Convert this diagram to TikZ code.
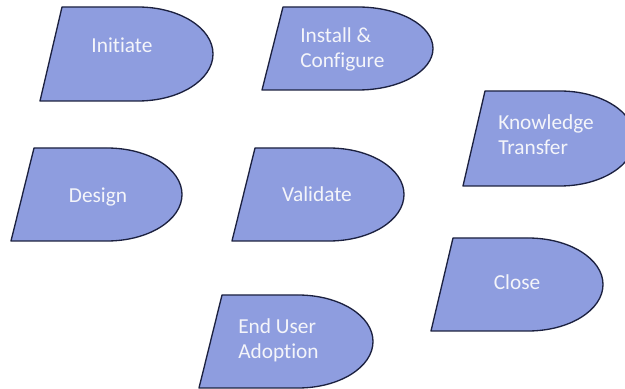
\documentclass[tikz,border=0pt]{standalone}
\usepackage{fontspec}
\setmainfont[RawFeature={-liga;-clig;-dlig}]{Carlito}
\definecolor{fillc}{HTML}{8E9DDF}
\definecolor{edgec}{HTML}{1C2140}
\definecolor{txtc}{HTML}{F4F5FA}
\newcommand\dshp[5]{%
  \pgfmathsetmacro\dTy{389-#2}%
  \pgfmathsetmacro\dBy{389-#4}%
  \pgfmathsetmacro\dRy{(#4-#2)/2*0.75}%
  \pgfmathsetmacro\dCx{#5-75}%
  \path[dshape] (#1,\dTy) -- (\dCx,\dTy) arc[start angle=90,end angle=-90,x radius=56.25pt,y radius=\dRy pt] -- (#3,\dBy) -- cycle;}
\begin{document}
\begin{tikzpicture}[x=0.75pt,y=0.75pt,
  dshape/.style={draw=edgec,line width=1pt,fill=fillc,line join=round},
  lbl/.style={text=txtc,font=\fontsize{16}{19}\selectfont,inner sep=0pt,align=left}]
\useasboundingbox (0,0) rectangle (625,389);
\fill[white] (0,0) rectangle (625,389);
\clip (0,0) rectangle (625,389);
% shapes: TLx, TLy, BLx, BLy, right (pixel coords, y down)
\dshp{62}{7}{40}{101}{213}
\dshp{283}{7}{262}{90}{433}
\dshp{485}{91}{463}{186}{635}
\dshp{34}{148}{11}{241}{182}
\dshp{255}{148}{232}{241}{404}
\dshp{453}{238}{431}{331}{603}
\dshp{222}{295}{199}{388}{373}
% labels
\node[lbl,anchor=base] (initiate) at (122,389-53) {Initiate};
\node[lbl,anchor=west] (install) at (300,389-49.5) {Install \&\\Configure};
\node[lbl,anchor=west] (knowledge) at (498,389-135) {Knowledge\\Transfer};
\node[lbl,anchor=base] (design) at (98,389-203) {Design};
\node[lbl,anchor=base] (validate) at (317,389-202) {Validate};
\node[lbl,anchor=base] (close) at (517,389-290) {Close};
\node[lbl,anchor=west] (enduser) at (238,389-340) {End User\\Adoption};
\end{tikzpicture}
\end{document}
